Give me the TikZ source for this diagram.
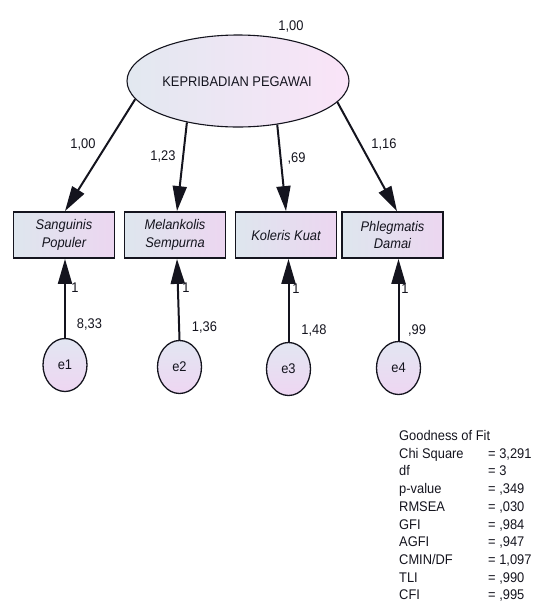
\documentclass[tikz,border=0pt]{standalone}
\usepackage{fontspec}
\setmainfont{Liberation Sans}[FakeStretch=0.92]
\usetikzlibrary{arrows.meta,shapes.geometric}

\definecolor{ink}{RGB}{20,20,30}
\definecolor{latL}{RGB}{226,232,240}
\definecolor{latR}{RGB}{250,228,248}
\definecolor{boxL}{RGB}{222,230,238}
\definecolor{boxR}{RGB}{236,214,240}
\definecolor{errT}{RGB}{226,230,242}
\definecolor{errB}{RGB}{238,214,242}

\tikzset{
  txt/.style={font=\fontsize{14}{17.5}\selectfont, text=ink},
  latent/.style={ellipse, draw=ink, line width=1.1pt, left color=latL, right color=latR,
    minimum width=222pt, minimum height=92pt, inner sep=0pt},
  obsbox/.style={rectangle, draw=ink, line width=1.8pt, left color=boxL, right color=boxR,
    minimum width=101pt, minimum height=46pt, inner sep=0pt, align=center,
    font=\fontsize{14}{17.5}\selectfont\itshape, text=ink},
  errnode/.style={ellipse, draw=ink, line width=1.3pt, top color=errT, bottom color=errB,
    minimum width=44pt, minimum height=53pt, inner sep=0pt, text=ink,
    font=\fontsize{14}{17.5}\selectfont},
  path arrow/.style={draw=ink, line width=2pt, -{Triangle[length=25pt, width=14pt]}},
  lab/.style={txt, anchor=base, inner sep=0pt},
  fitrow/.style={txt, anchor=base west, inner sep=0pt},
}

\begin{document}
\begin{tikzpicture}[x=1pt, y=-1pt]
\useasboundingbox (0,0) rectangle (548,606);

% latent factor
\node[latent] (lat) at (238,81) {};
\node[lab] (latname) at (237,86) {KEPRIBADIAN PEGAWAI};
\node[lab] (latvar) at (291,30) {1,00};

% indicators
\node[obsbox] (b1) at (64,235) {Sanguinis\\Populer};
\node[obsbox] (b2) at (175,235) {Melankolis\\Sempurna};
\node[obsbox] (b3) at (286,235) {Koleris Kuat};
\node[obsbox] (b4) at (392.5,235) {Phlegmatis\\Damai};

% error terms
\node[errnode] (e1) at (65,365) {e1};
\node[errnode] (e2) at (179.5,367) {e2};
\node[errnode] (e3) at (288.5,369) {e3};
\node[errnode] (e4) at (398.5,368) {e4};

% loadings
\draw[path arrow] (lat.190.7) -- ([xshift=1pt]b1.north);
\draw[path arrow] (lat.219.4) -- ([xshift=2pt]b2.north);
\draw[path arrow] (lat.312.1) -- (b3.north);
\draw[path arrow] (lat.348.9) -- ([xshift=4.5pt]b4.north);

\node[lab] (l1) at (83,148) {1,00};
\node[lab] (l2) at (163,160) {1,23};
\node[lab] (l3) at (296.5,162) {,69};
\node[lab] (l4) at (384,148.5) {1,16};

% error paths
\draw[path arrow] (e1.north) -- (e1.north |- b1.south);
\draw[path arrow] (e2.north) -- ([xshift=2pt]b2.south);
\draw[path arrow] (e3.north) -- (e3.north |- b3.south);
\draw[path arrow] (e4.north) -- (e4.north |- b4.south);

\node[lab] (w1) at (75,292) {1};
\node[lab] (w2) at (186,292) {1};
\node[lab] (w3) at (296,293) {1};
\node[lab] (w4) at (405,293) {1};

\node[lab] (v1) at (89.5,328) {8,33};
\node[lab] (v2) at (204.5,331) {1,36};
\node[lab] (v3) at (314,334) {1,48};
\node[lab] (v4) at (417,334) {,99};

% fit summary
\node[fitrow] (gof) at (399,440.5) {Goodness of Fit};
\foreach \k/\v [count=\i] in {Chi Square/3{,}291, df/3, p-value/{,}349, RMSEA/{,}030,
    GFI/{,}984, AGFI/{,}947, {CMIN/DF}/1{,}097, TLI/{,}990, CFI/{,}995} {
  \node[fitrow] (fk\i) at (399,440.5+17.7*\i) {\k};
  \node[fitrow] (fv\i) at (488,440.5+17.7*\i) {= \v};
}
\end{tikzpicture}
\end{document}
